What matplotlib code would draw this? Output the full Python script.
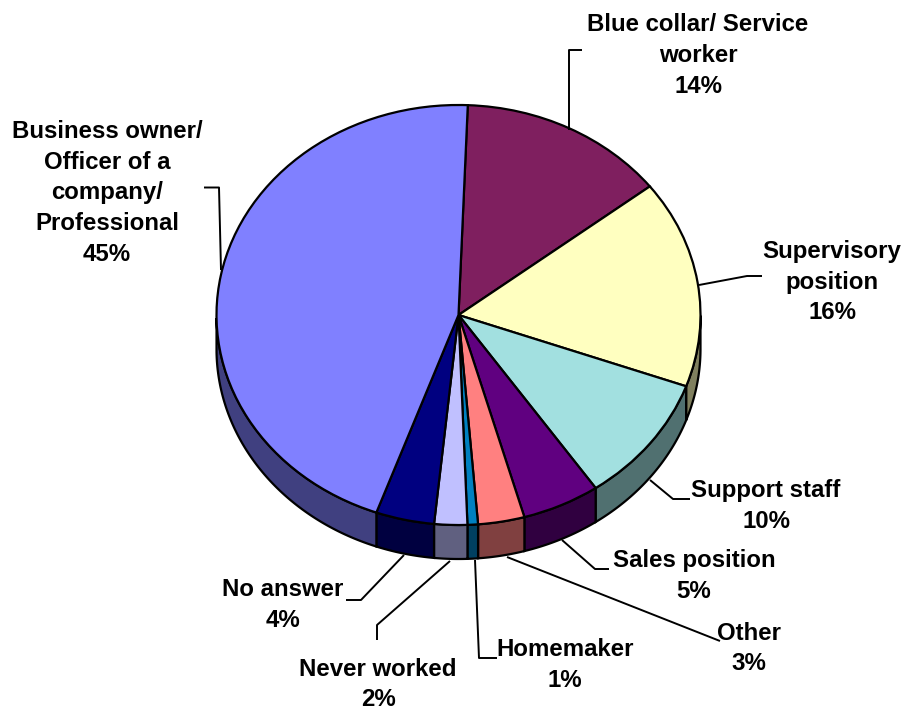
import numpy as np
import matplotlib
matplotlib.use("Agg")
import matplotlib.pyplot as plt

labels = ["Blue collar/ Service\nworker\n14%", "Supervisory\nposition\n16%", "Support staff\n10%",
          "Sales position\n5%", "Other\n3%", "Homemaker\n1%", "Never worked\n2%", "No answer\n4%",
          "Business owner/\nOfficer of a\ncompany/\nProfessional\n45%"]
values = [13.9, 16.0, 9.9, 5.2, 3.1, 0.7, 2.2, 3.9, 45.1]
top_colors = ["#7F1F5F", "#FFFFC0", "#A2E0E0", "#600080", "#FF8080", "#0080C0", "#C0C0FF", "#000080", "#8080FF"]
side_colors = ["#40102F", "#80805F", "#507070", "#300040", "#804040", "#004060", "#606080", "#000040", "#404080"]
label_px = [(698, 55.5), (832, 282), (766, 506), (694, 576), (749, 648.5), (565, 665), (378, 684.5), (283, 605), (107, 193)]
leaders_px = [[(582, 50), (569, 50), (569, 130)],
              [(762, 276), (747, 276), (699, 285)],
              [(690, 499), (673, 499), (650, 480)],
              [(609, 569), (595, 569), (562, 540)],
              [(720, 641), (507, 557)],
              [(497, 658), (479, 658), (475, 560)],
              [(377, 640), (377, 625), (450, 561)],
              [(346, 600), (361, 600), (404, 555)],
              [(204, 187.5), (219, 187.5), (221, 270)]]

cx, cy, rx, ry, depth = 458.5, 315, 242, 210, 34
W, H = 905, 711
start = 87.8

fig = plt.figure(figsize=(W / 100, H / 100), dpi=100, facecolor="white")
ax = fig.add_axes([0, 0, 1, 1])
X = lambda p: (p - cx) / rx
Y = lambda p: (cy - p) / ry
d = depth / ry

# side wall, from the same slice angles as the pie
edges = start - np.cumsum([0] + values) * 3.6
for a0, a1, c in zip(edges[:-1], edges[1:], side_colors):
    t = np.radians(np.linspace(a0, a1, 200))
    t = t[np.sin(t) <= 0.0]
    if len(t) == 0:
        continue
    xs, ys = np.cos(t), np.sin(t)
    ax.fill(np.r_[xs, xs[::-1]], np.r_[ys, ys[::-1] - d], facecolor=c, edgecolor="black", lw=1.6, zorder=1)

wedges, _ = ax.pie(values, colors=top_colors, startangle=start, counterclock=False, radius=1, center=(0, 0),
                   wedgeprops=dict(edgecolor="black", linewidth=1.6, zorder=3))
ax.set_aspect("auto")
ax.set_xlim(X(0), X(W))
ax.set_ylim(Y(H), Y(0))
ax.axis("off")

for pts in leaders_px:
    ax.plot([X(p[0]) for p in pts], [Y(p[1]) for p in pts], color="black", lw=1.4, zorder=4, solid_capstyle="butt")
for s, (x, y) in zip(labels, label_px):
    ax.text(X(x), Y(y), s, ha="center", va="center", family="Liberation Sans", weight="bold",
            fontsize=17.3, linespacing=1.43, color="black", zorder=5)

fig.savefig("out.png", dpi=100)
